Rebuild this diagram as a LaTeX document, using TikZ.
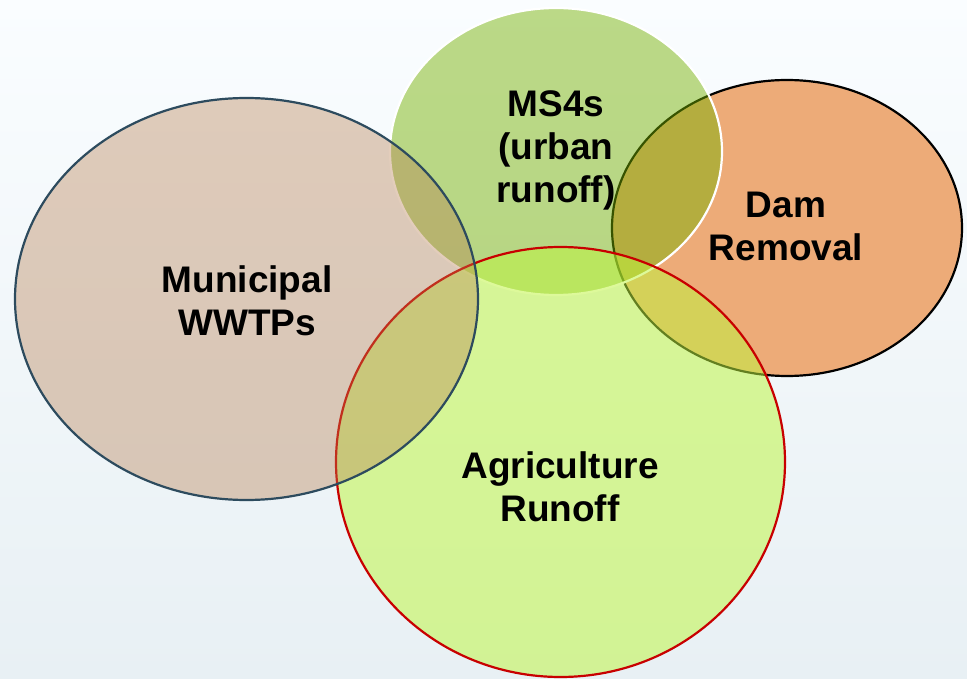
\documentclass[tikz,border=0pt]{standalone}
\usepackage{fontspec}
\setmainfont{Liberation Sans}
\usetikzlibrary{shapes.geometric}
\definecolor{bgtop}{RGB}{250,253,255}
\definecolor{bgmid}{RGB}{246,250,252}
\definecolor{bgbot}{RGB}{232,240,244}
\definecolor{damfill}{RGB}{237,171,120}
\definecolor{msfill}{RGB}{117,177,0}
\definecolor{agfill}{RGB}{190,245,62}
\definecolor{mufill}{RGB}{182,125,78}
\definecolor{muline}{RGB}{45,75,94}
\definecolor{agline}{RGB}{200,0,0}
\tikzset{
  blob/.style={ellipse, inner sep=0pt, line width=2.2pt},
  lbl/.style={font=\fontsize{37}{43}\selectfont\bfseries, align=center, text=black, inner sep=0pt}
}
\begin{document}
\begin{tikzpicture}[x=1pt,y=-1pt]
\shade[top color=bgtop, middle color=bgmid, bottom color=bgbot] (0,0) rectangle (967,679);
\useasboundingbox (0,0) rectangle (967,679);
\node[blob, draw=black, fill=damfill, minimum width=350pt, minimum height=296pt] (dam) at (787,228) {};
\node[blob, draw=white, fill=msfill, fill opacity=0.47, minimum width=332pt, minimum height=287pt] (ms4) at (556,151.5) {};
\node[blob, draw=agline, fill=agfill, fill opacity=0.52, minimum width=449pt, minimum height=430pt] (agri) at (560.5,462) {};
\node[blob, draw=muline, fill=mufill, fill opacity=0.38, minimum width=463pt, minimum height=402pt] (muni) at (246.5,299) {};
\node[lbl] (tmuni) at (247,301) {Municipal\\WWTPs};
\node[lbl] (tms4) at (556,150) {MS4s\\(urban\\runoff)};
\node[lbl] (tdam) at (786,226) {Dam\\Removal};
\node[lbl] (tagri) at (560,487) {Agriculture\\Runoff};
\end{tikzpicture}
\end{document}
